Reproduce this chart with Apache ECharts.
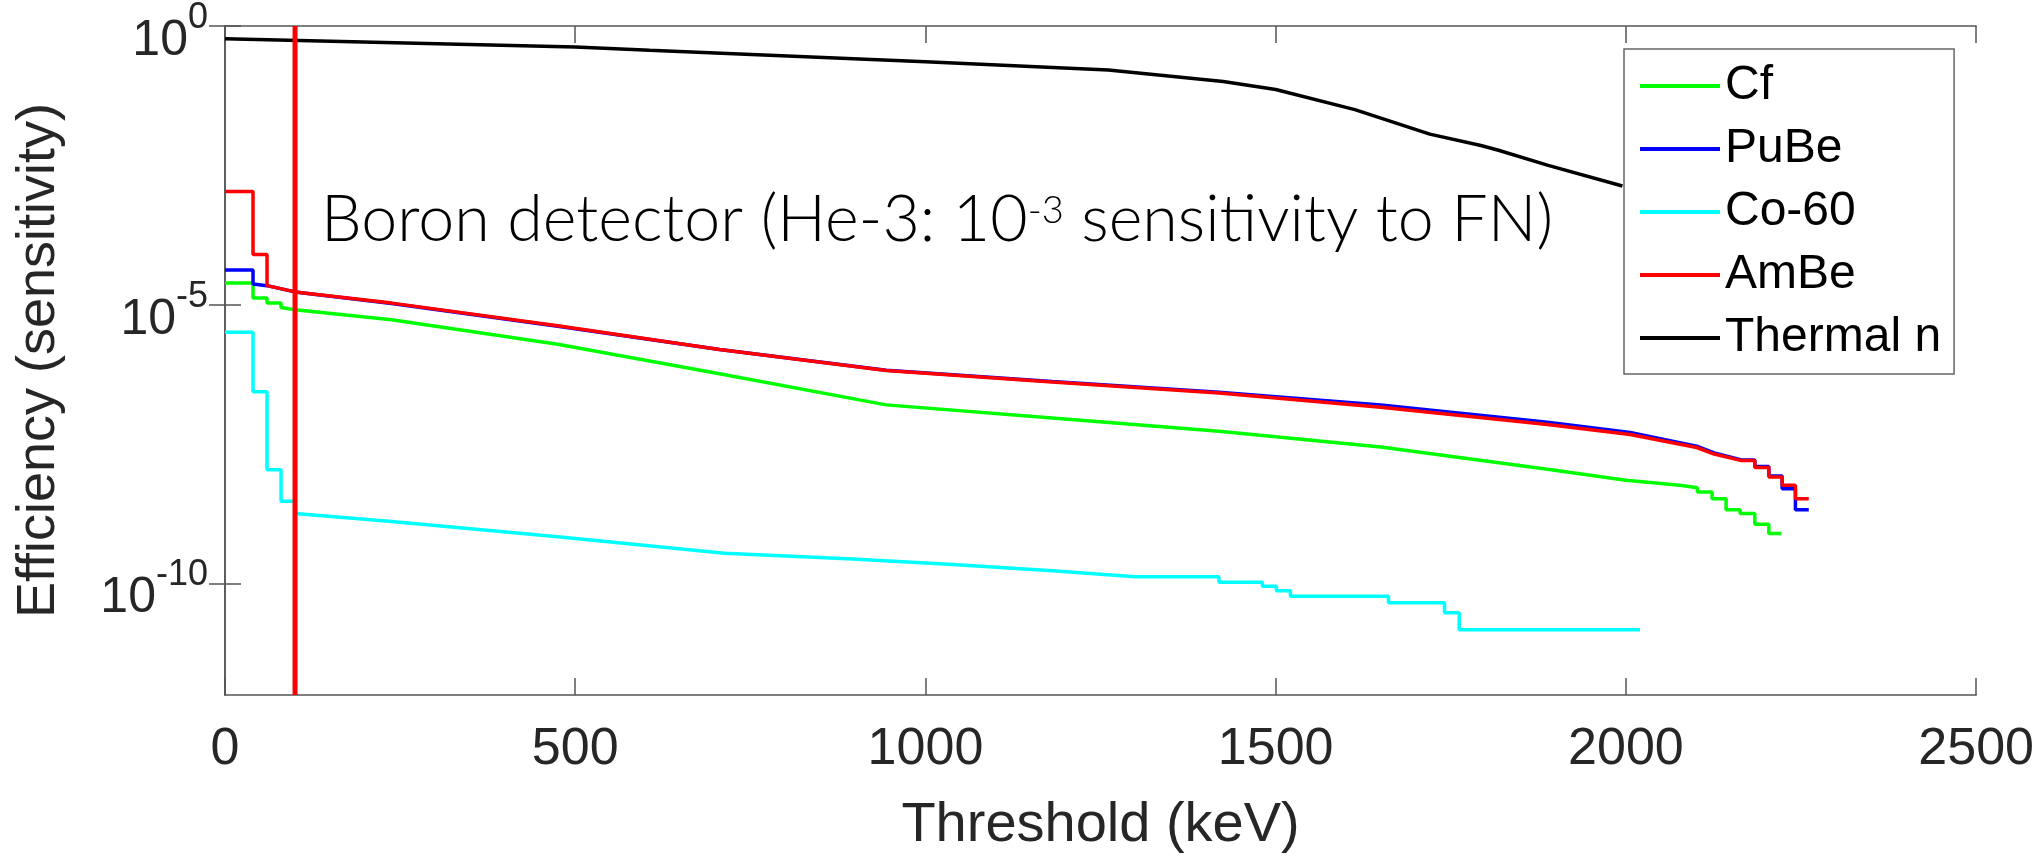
<!DOCTYPE html>
<html>
<head>
<meta charset="utf-8">
<title>Boron detector efficiency</title>
<script src="https://cdn.jsdelivr.net/npm/echarts@6/dist/echarts.min.js"></script>
<style>
  html, body { margin: 0; padding: 0; background: #fff; }
  #chart { width: 2037px; height: 859px; }
</style>
</head>
<body>
<div id="chart"></div>
<script>
// [threshold keV, efficiency]; repeated x = vertical step
const cfData = [
  [0, 2.45e-5], [40, 2.45e-5], [40, 1.32e-5], [60, 1.32e-5], [60, 1.07e-5], [80, 1.07e-5], [80, 8.9e-6],
  [100, 8.1e-6], [238, 5.4e-6], [475, 1.95e-6], [706, 5.8e-7], [944, 1.6e-7], [1181, 9.3e-8],
  [1419, 5.4e-8], [1650, 2.8e-8], [1888, 1.12e-8], [2000, 7.1e-9], [2077, 5.8e-9], [2102, 5.2e-9],
  [2102, 4.4e-9], [2123, 4.4e-9], [2123, 3.3e-9], [2143, 3.3e-9], [2143, 2.1e-9], [2163, 2.1e-9],
  [2163, 1.8e-9], [2184, 1.8e-9], [2184, 1.15e-9], [2204, 1.15e-9], [2204, 7.9e-10], [2222, 7.9e-10]
]
const puBeData = [
  [0, 4.2e-5], [40, 4.2e-5], [40, 2.35e-5], [60, 2.2e-5], [100, 1.7e-5], [238, 1.05e-5],
  [475, 4.1e-6], [706, 1.58e-6], [944, 6.7e-7], [1181, 4.2e-7], [1419, 2.7e-7], [1650, 1.6e-7],
  [1888, 7.8e-8], [2006, 5.1e-8], [2101, 2.9e-8], [2126, 2.2e-8], [2165, 1.65e-8], [2184, 1.65e-8],
  [2184, 1.25e-8], [2204, 1.25e-8], [2204, 8.5e-9], [2223, 8.5e-9], [2223, 5e-9], [2242, 5e-9],
  [2242, 2.1e-9], [2261, 2.1e-9]
]
const co60Data = [
  [0, 3.2e-6], [40, 3.2e-6], [40, 2.75e-7], [60, 2.75e-7], [60, 1.1e-8], [80, 1.1e-8], [80, 3e-9],
  [100, 3e-9], [100, 1.8e-9], [238, 1.3e-9], [475, 6.9e-10], [713, 3.5e-10], [896, 2.75e-10],
  [1039, 2.2e-10], [1181, 1.7e-10], [1300, 1.32e-10], [1419, 1.32e-10], [1419, 1.05e-10],
  [1481, 1.05e-10], [1481, 8.9e-11], [1501, 8.9e-11], [1501, 7.4e-11], [1521, 7.4e-11],
  [1521, 5.9e-11], [1661, 5.9e-11], [1661, 4.5e-11], [1741, 4.5e-11], [1741, 3e-11],
  [1762, 3e-11], [1762, 1.48e-11], [2020, 1.48e-11]
]
const amBeData = [
  [0, 1.07e-3], [40, 1.07e-3], [40, 8e-5], [60, 8e-5], [60, 2.2e-5], [100, 1.7e-5], [238, 1.07e-5],
  [475, 4.2e-6], [706, 1.58e-6], [944, 6.6e-7], [1181, 4.1e-7], [1419, 2.6e-7], [1650, 1.45e-7],
  [1888, 7.1e-8], [2006, 4.7e-8], [2101, 2.75e-8], [2126, 2.1e-8], [2165, 1.6e-8], [2184, 1.6e-8],
  [2184, 1.2e-8], [2204, 1.2e-8], [2204, 8.1e-9], [2223, 8.1e-9], [2223, 5.8e-9], [2242, 5.8e-9],
  [2242, 3.3e-9], [2261, 3.3e-9]
]
const thermalData = [
  [0, 0.59], [500, 0.42], [606, 0.366], [1000, 0.228], [1261, 0.162], [1425, 0.101],
  [1500, 0.0724], [1613, 0.0316], [1720, 0.0115], [1793, 0.0072], [1818, 0.0059],
  [1889, 0.00316], [1995, 0.00135]
]
const thresholdKeV = 100
const names = ['Cf', 'PuBe', 'Co-60', 'AmBe', 'Thermal n']
const colors = ['#00ff00', '#0000ff', '#00ffff', '#ff0000', '#000000']
const yTicks = [1e-10, 1e-5, 1]

const axisColor = '#555'
const textColor = '#262626'
const font = "'Liberation Sans', Arial, Helvetica, sans-serif"

let ch = echarts.init(document.getElementById('chart'))

let lineSeries = [cfData, puBeData, co60Data, amBeData, thermalData].map((d, i) => ({
  name: names[i],
  type: 'line',
  data: d,
  showSymbol: false,
  symbol: 'none',
  color: colors[i],
  lineStyle: { color: colors[i], width: 3.5 },
  z: 2
}))

let option = {
  animation: false,
  backgroundColor: '#fff',
  grid: { left: 225, right: 59, top: 22, bottom: 158 },
  legend: {
    data: names,
    orient: 'vertical',
    left: 1624,
    top: 49,
    padding: [13, 13, 12, 16],
    itemGap: 15,
    itemWidth: 80,
    itemHeight: 4,
    icon: 'rect',
    backgroundColor: '#fff',
    borderColor: '#666',
    borderWidth: 1.5,
    textStyle: { fontSize: 48, lineHeight: 48, color: '#000', fontFamily: font }
  },
  xAxis: [
    {
      type: 'value',
      min: 0,
      max: 2500,
      interval: 500,
      position: 'bottom',
      name: 'Threshold (keV)',
      nameLocation: 'middle',
      nameGap: 103,
      nameTextStyle: { fontSize: 56, color: textColor, fontFamily: font },
      axisLine: { lineStyle: { color: axisColor, width: 1.5 } },
      axisTick: { inside: true, length: 17, lineStyle: { color: axisColor, width: 1.5 } },
      axisLabel: {
        fontSize: 52, lineHeight: 52, margin: 29, color: textColor, fontFamily: font,
        formatter: v => String(v)
      },
      splitLine: { show: false }
    },
    {
      type: 'value',
      min: 0,
      max: 2500,
      interval: 500,
      position: 'top',
      axisLine: { lineStyle: { color: axisColor, width: 1.5 } },
      axisTick: { inside: true, length: 17, lineStyle: { color: axisColor, width: 1.5 } },
      axisLabel: { show: false },
      splitLine: { show: false }
    }
  ],
  yAxis: [
    {
      type: 'log',
      logBase: 10,
      min: 1e-12,
      max: 1,
      position: 'left',
      name: 'Efficiency (sensitivity)',
      nameLocation: 'middle',
      nameGap: 159,
      nameTextStyle: { fontSize: 54, color: textColor, fontFamily: font },
      axisLine: { lineStyle: { color: axisColor, width: 1.5 } },
      axisTick: { inside: true, length: 16, customValues: yTicks, lineStyle: { color: axisColor, width: 1.5 } },
      axisLabel: {
        customValues: yTicks,
        margin: 17,
        color: textColor,
        fontFamily: font,
        formatter: v => '{b|10}{s|' + Math.round(Math.log10(v)) + '}',
        rich: {
          b: { fontSize: 50, padding: [30, 0, 0, 0], color: textColor, fontFamily: font },
          s: { fontSize: 36, padding: [0, 0, 16, 0], color: textColor, fontFamily: font }
        }
      },
      minorTick: { show: false },
      splitLine: { show: false }
    },
    {
      type: 'log',
      logBase: 10,
      min: 1e-12,
      max: 1,
      position: 'right',
      axisLine: { lineStyle: { color: axisColor, width: 1.5 } },
      axisTick: { inside: true, length: 16, customValues: yTicks, lineStyle: { color: axisColor, width: 1.5 } },
      axisLabel: { show: false },
      splitLine: { show: false }
    }
  ],
  graphic: [
    {
      type: 'text',
      left: 321,
      top: 188,
      z: 10,
      style: {
        text: '{a|Boron detector (He-3: 10}{s|-3}{a| sensitivity to FN)}',
        rich: {
          a: { fontSize: 64.5, fontFamily: 'Lato', fontWeight: 300, fill: '#000', color: '#000' },
          s: { fontSize: 38, fontFamily: 'Lato', fontWeight: 300, padding: [0, 0, 19, 0], fill: '#000', color: '#000' }
        }
      }
    }
  ],
  series: lineSeries.concat([
    {
      name: 'threshold',
      type: 'line',
      data: [[thresholdKeV, 1], [thresholdKeV, 1e-12]],
      showSymbol: false,
      symbol: 'none',
      lineStyle: { color: '#ff0000', width: 5 },
      z: 3
    }
  ])
}
ch.setOption(option)
</script>
</body>
</html>
